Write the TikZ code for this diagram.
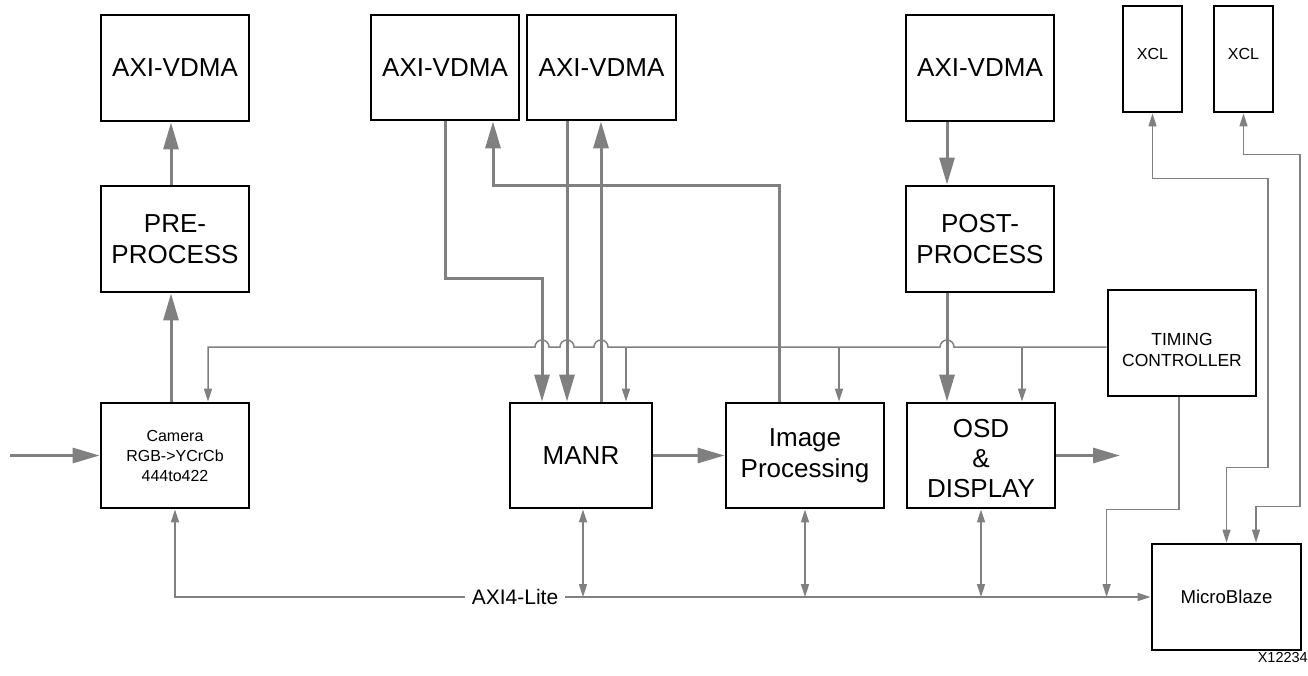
\documentclass[tikz,border=0pt]{standalone}
\usepackage{fontspec}
\setmainfont{Liberation Sans}
\usetikzlibrary{arrows.meta,calc}
\definecolor{ln}{RGB}{128,128,128}
\begin{document}
\begin{tikzpicture}[x=1pt,y=-1pt,
  box/.style={draw=black,line width=2.8pt,inner sep=0pt,align=center,font=\fontsize{26}{31}\selectfont},
  small/.style={font=\fontsize{16}{20}\selectfont},
  thk/.style={draw=ln,line width=3pt,-{Triangle[length=27pt,width=15pt]}},
  thn/.style={draw=ln,line width=1.5pt,-{Triangle[length=13pt,width=8pt]}},
  thnb/.style={draw=ln,line width=1.5pt,{Triangle[length=13pt,width=8pt]}-{Triangle[length=13pt,width=8pt]}},
  thnl/.style={draw=ln,line width=1.5pt}]
\useasboundingbox (0,0) rectangle (1308,675);

% boxes
\node[box,minimum width=148pt,minimum height=106pt] (vdma1) at (175,68) {AXI-VDMA};
\node[box,minimum width=148pt,minimum height=106pt] (pre) at (175,239) {PRE-\\PROCESS};
\node[box,small,minimum width=148pt,minimum height=105pt] (cam) at (175,455.5) {Camera\\RGB->YCrCb\\444to422};
\node[box,minimum width=148pt,minimum height=105pt] (vdma2) at (445,67.5) {AXI-VDMA};
\node[box,minimum width=149pt,minimum height=105pt] (vdma3) at (601.5,67.5) {AXI-VDMA};
\node[box,minimum width=148pt,minimum height=106pt] (vdma4) at (980,68) {AXI-VDMA};
\node[box,minimum width=148pt,minimum height=106pt] (post) at (980,239) {POST-\\PROCESS};
\node[box,small,minimum width=59pt,minimum height=106pt] (xcl1) at (1152.5,59) {\raisebox{0pt}[0pt][0pt]{XCL}};
\node[box,small,minimum width=59pt,minimum height=106pt] (xcl2) at (1243.5,59) {\raisebox{0pt}[0pt][0pt]{XCL}};
\node[box,font=\fontsize{17.5}{21}\selectfont,minimum width=148pt,minimum height=106pt] (timing) at (1182,343) {\raisebox{-13pt}[0pt][0pt]{\begin{tabular}{@{}c@{}}TIMING\\CONTROLLER\end{tabular}}};
\node[box,minimum width=142pt,minimum height=105pt] (manr) at (581,455.5) {MANR};
\node[box,minimum width=158pt,minimum height=105pt] (imgp) at (805,455.5) {Image\\Processing};
\node[box,font=\fontsize{26}{30}\selectfont,minimum width=148pt,minimum height=105pt] (osd) at (981,455.5) {\raisebox{-12pt}[0pt][0pt]{\begin{tabular}{@{}c@{}}OSD\\\&\\DISPLAY\end{tabular}}};
\node[box,font=\fontsize{18.6}{22}\selectfont,minimum width=149pt,minimum height=106pt] (mb) at (1226.5,597) {MicroBlaze};

% thick data paths
\coordinate (in) at (10,455.5);
\coordinate (out) at (1120,455.5);
\draw[thk] ([xshift=-4pt]pre.north) -- ([xshift=-4pt]vdma1.south);
\draw[thk] ([xshift=-4pt]cam.north) -- ([xshift=-4pt]pre.south);
\draw[thk] (in) -- (cam.west);
\draw[thk] (vdma2.south) -- ++(0,157) -| ([xshift=-39pt]manr.north);
\draw[thk] ([xshift=-34.5pt]vdma3.south) -- ([xshift=-14pt]manr.north);
\draw[thk] ([xshift=20pt]manr.north) -- ([xshift=20pt]manr.north |- vdma3.south);
\draw[thk] ([xshift=-26pt]imgp.north) -- ++(0,-216.5) -| ([xshift=48pt]vdma2.south);
\draw[thk] (manr.east) -- (imgp.west);
\draw[thk] ([xshift=-33pt]vdma4.south) -- ([xshift=-33pt]post.north);
\draw[thk] ([xshift=-33pt]post.south) -- ([xshift=-34pt]osd.north);
\draw[thk] (osd.east) -- (out);

% timing distribution
\coordinate (tl) at ([yshift=-4pt]timing.west);
\draw[thn] (tl) -- (954,347) arc[start angle=0,end angle=180,radius=7pt]
  -- (608,347) arc[start angle=0,end angle=180,radius=7pt]
  -- (574,347) arc[start angle=0,end angle=180,radius=7pt]
  -- (549,347) arc[start angle=0,end angle=180,radius=7pt]
  -- (208,347) -- ([xshift=33pt]cam.north);
\draw[thn] ([xshift=41pt]osd.north |- tl) -- ([xshift=41pt]osd.north);
\draw[thn] ([xshift=34pt]imgp.north |- tl) -- ([xshift=34pt]imgp.north);
\draw[thn] ([xshift=45pt]manr.north |- tl) -- ([xshift=45pt]manr.north);

% AXI4-Lite bus
\draw[thnb] (cam.south) |- (mb.west);
\node[fill=white,inner xsep=7pt,inner ysep=2pt,font=\fontsize{21}{24}\selectfont] (bus) at (515,597) {AXI4-Lite};
\draw[thnb] ([xshift=2pt]manr.south) -- ([xshift=2pt]manr.south |- mb.west);
\draw[thnb] (imgp.south) -- (imgp.south |- mb.west);
\draw[thnb] (osd.south) -- (osd.south |- mb.west);
\draw[thn] ([xshift=-3pt]timing.south) -- ++(0,112) -| ([xshift=-44pt]mb.west);

% XCL links
\draw[thnb] (xcl1.south) -- ++(0,65) -| ($(mb.north)+(41.5,-75)$) -| (mb.north);
\draw[thnb] (xcl2.south) -- ++(0,41) -| ($(mb.north)+(73.5,-36)$) -| ([xshift=29.5pt]mb.north);

\node[font=\fontsize{14.5}{17}\selectfont,anchor=east,inner sep=0pt] (fig) at (1308,657) {X12234};
\end{tikzpicture}
\end{document}
